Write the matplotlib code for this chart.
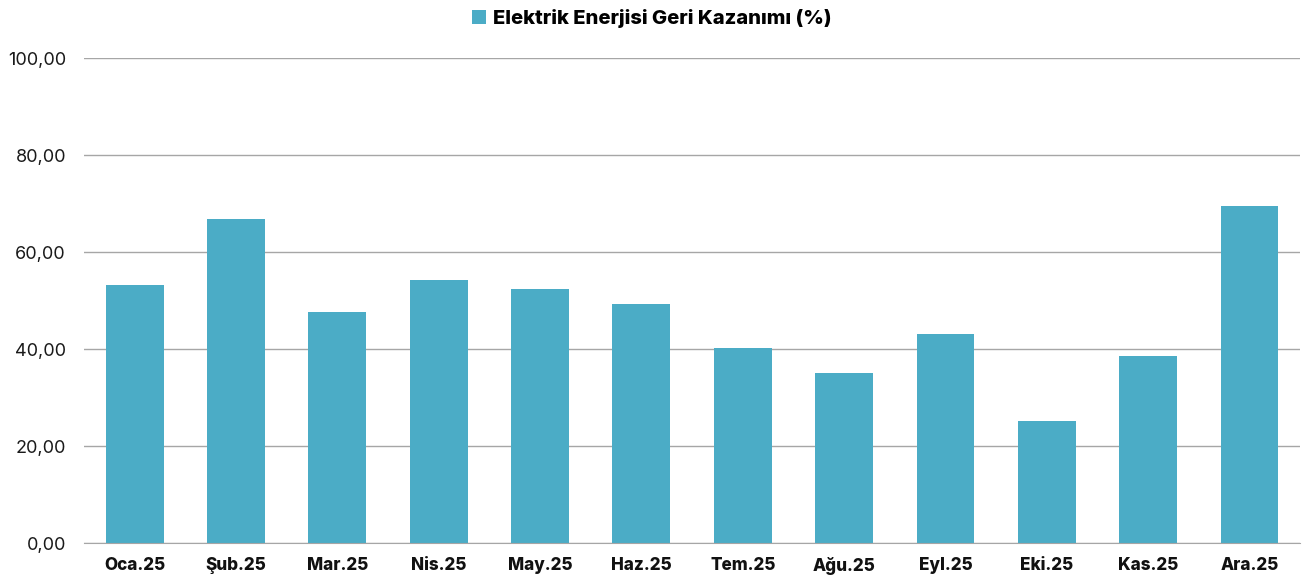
import matplotlib
matplotlib.use("Agg")
import matplotlib.pyplot as plt
from matplotlib.patches import Patch
from matplotlib.ticker import FuncFormatter

months = ["Oca.25", "Şub.25", "Mar.25", "Nis.25", "May.25", "Haz.25",
          "Tem.25", "Ağu.25", "Eyl.25", "Eki.25", "Kas.25", "Ara.25"]
recovery = [53.2, 66.9, 47.7, 54.3, 52.5, 49.4, 40.3, 35.0, 43.2, 25.2, 38.7, 69.6]
y_ticks = [0, 20, 40, 60, 80, 100]
series_name = "Elektrik Enerjisi Geri Kazanımı (%)"

bar_color = "#4BACC6"
grid_color = "#A6A6A6"
plt.rcParams["font.family"] = ["Inter", "DejaVu Sans"]

fig = plt.figure(figsize=(13.04, 5.81), dpi=100)
ax = fig.add_axes([0.0644, 0.0649, 0.9326, 0.8351])
ax.bar(range(len(months)), recovery, width=0.57, color=bar_color, zorder=3)

ax.set_xlim(-0.5, len(months) - 0.5)
ax.set_ylim(0, 100)
ax.set_yticks(y_ticks)
ax.yaxis.set_major_formatter(FuncFormatter(lambda v, _: f"{v:.2f}".replace(".", ",")))
ax.set_xticks(range(len(months)))
ax.set_xticklabels(months, fontweight="heavy", fontsize=12.3, color="#111111")
ax.tick_params(axis="y", length=0, pad=13, labelsize=13, labelcolor="#1a1a1a")
ax.tick_params(axis="x", length=0, pad=10)
ax.grid(axis="y", color=grid_color, linewidth=1, zorder=0)
for s in ["top", "right", "left"]:
    ax.spines[s].set_visible(False)
ax.spines["bottom"].set_color(grid_color)
ax.spines["bottom"].set_zorder(4)

handle = Patch(facecolor=bar_color, edgecolor="none")
fig.legend([handle], [series_name], loc="center", bbox_to_anchor=(0.5, 0.968),
           frameon=False, handlelength=0.7, handleheight=0.7, handletextpad=0.35,
           prop={"weight": "heavy", "size": 14.5})

fig.savefig("out.png", dpi=100)
